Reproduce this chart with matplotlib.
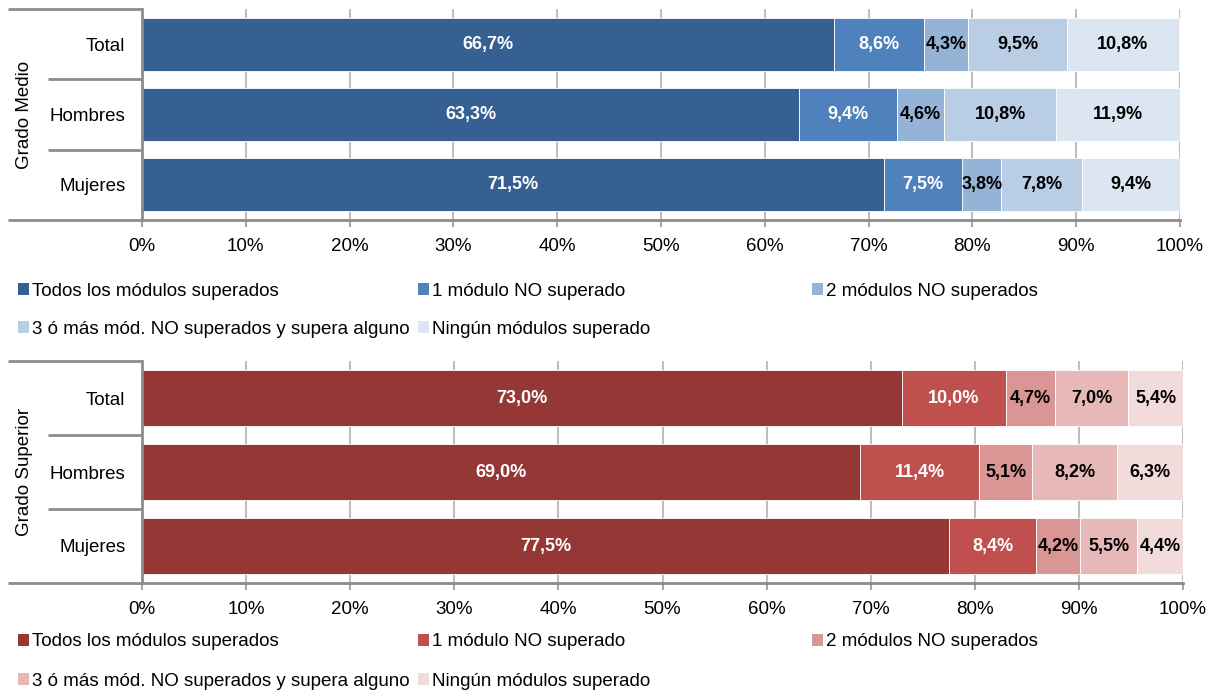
import numpy as np
import matplotlib
matplotlib.use("Agg")
import matplotlib.pyplot as plt
from matplotlib.patches import Patch

plt.rcParams['font.family'] = ['Liberation Sans', 'DejaVu Sans']

categories = ["Total", "Hombres", "Mujeres"]
series = ["Todos los módulos superados", "1 módulo NO superado", "2 módulos NO superados",
          "3 ó más mód. NO superados y supera alguno", "Ningún módulos superado"]

# rows: Total, Hombres, Mujeres ; columns: series
medio = np.array([[66.7, 8.6, 4.3, 9.5, 10.8],
                  [63.3, 9.4, 4.6, 10.8, 11.9],
                  [71.5, 7.5, 3.8, 7.8, 9.4]])
superior = np.array([[73.0, 10.0, 4.7, 7.0, 5.4],
                     [69.0, 11.4, 5.1, 8.2, 6.3],
                     [77.5, 8.4, 4.2, 5.5, 4.4]])

blues = ['#376092', '#4F81BD', '#95B3D7', '#B9CDE5', '#DCE6F2']
reds = ['#953735', '#C0504D', '#D99694', '#E6B9B8', '#F2DCDB']
label_colors = ['white', 'white', 'black', 'black', 'black']

W, H = 1212, 690
fig = plt.figure(figsize=(W / 100, H / 100), dpi=100)

def px_axes(left, top, right, bottom):
    return fig.add_axes([left / W, 1 - bottom / H, (right - left) / W, (bottom - top) / H])

def draw_panel(ax, data, colors, group):
    y = np.arange(len(categories))
    left = np.zeros(len(categories))
    for j in range(data.shape[1]):
        vals = data[:, j]
        ax.barh(y, vals, left=left, height=0.75, color=colors[j],
                edgecolor='white', linewidth=0.6, zorder=2)
        for i, v in enumerate(vals):
            ax.text(left[i] + v / 2, y[i], f"{v:.1f}%".replace('.', ','),
                    ha='center', va='center', fontsize=13, fontweight='bold',
                    color=label_colors[j], zorder=3)
        left += vals
    ax.set_xlim(0, 100)
    ax.set_ylim(2.5, -0.5)
    ax.set_xticks(np.arange(0, 101, 10))
    ax.set_xticklabels([f"{t}%" for t in range(0, 101, 10)], fontsize=13.5)
    ax.set_yticks(y)
    ax.set_yticklabels(categories, fontsize=13.5)
    ax.tick_params(axis='y', length=0, pad=12)
    ax.tick_params(axis='x', length=5, width=1.5, color='#A6A6A6', pad=8)
    ax.grid(axis='x', color='#BFBFBF', linewidth=1.5, zorder=0)
    ax.set_axisbelow(True)
    for s in ['top', 'right']:
        ax.spines[s].set_visible(False)
    for s in ['left', 'bottom']:
        ax.spines[s].set_color('#8C8C8C')
        ax.spines[s].set_linewidth(2)
    # category separator lines outside the axes
    trans = ax.get_yaxis_transform()
    for b in [-0.5, 0.5, 1.5, 2.5]:
        x0 = -0.129 if b in (-0.5, 2.5) else -0.0906
        ax.plot([x0, 0], [b, b], transform=trans, color='#8C8C8C', lw=2,
                clip_on=False, solid_capstyle='butt')
    ax.text(-0.113, 1, group, transform=ax.get_yaxis_transform(), rotation=90,
            ha='center', va='center', fontsize=13.5)

def draw_legend(colors, y1, y2):
    xs = [18, 418, 812, 18, 418]
    ys = [y1, y1, y1, y2, y2]
    for k in range(len(series)):
        fig.legend(handles=[Patch(facecolor=colors[k], edgecolor='none')], labels=[series[k]],
                   loc='center left', bbox_to_anchor=(xs[k] / W, 1 - ys[k] / H),
                   frameon=False, fontsize=13.5, handlelength=0.6, handleheight=0.6,
                   handletextpad=0.15, borderpad=0, borderaxespad=0)

ax1 = px_axes(142, 9, 1180, 220)
draw_panel(ax1, medio, blues, "Grado Medio")
draw_legend(blues, 291, 329)

ax2 = px_axes(142, 361, 1183, 583)
draw_panel(ax2, superior, reds, "Grado Superior")
draw_legend(reds, 642, 681)

fig.savefig("out.png", dpi=100)
